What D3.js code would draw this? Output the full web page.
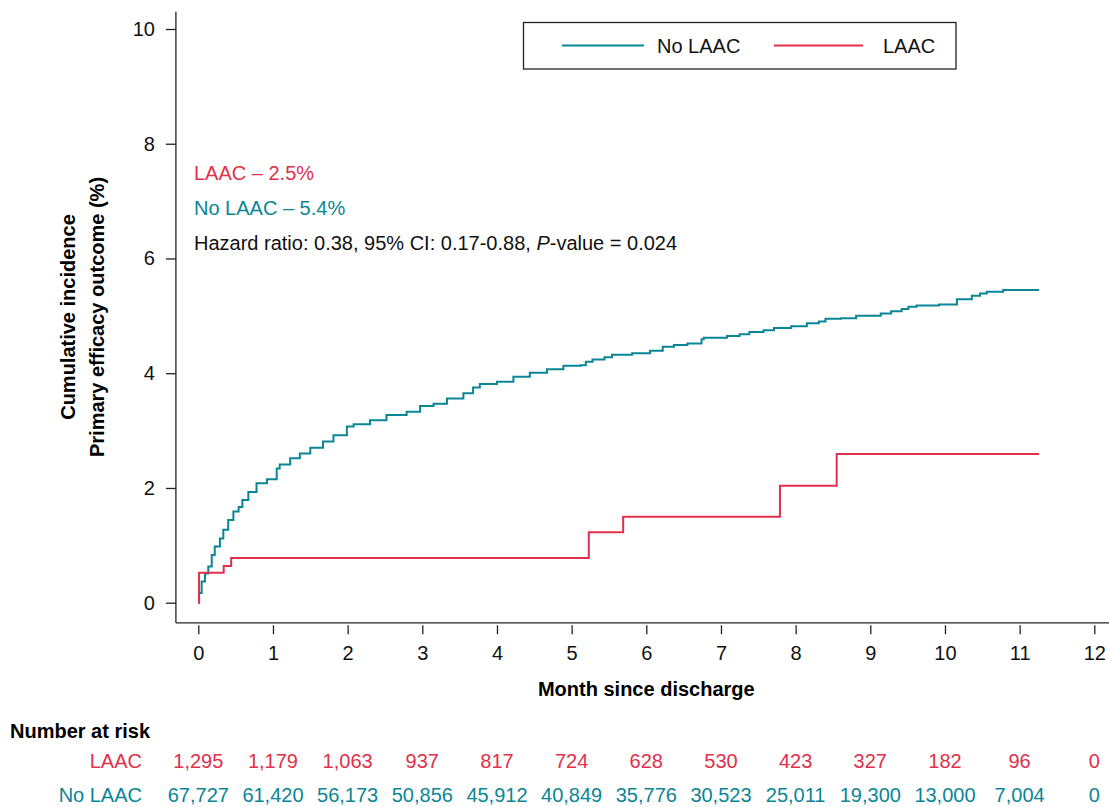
<!DOCTYPE html>
<html>
<head>
<meta charset="utf-8">
<script src="https://cdn.jsdelivr.net/npm/d3@7"></script>
<style>
  body { margin: 0; background: #fff; }
  svg text { font-family: "Liberation Sans", Arial, sans-serif; }
</style>
</head>
<body>
<svg width="1109" height="807"></svg>
<script>
// month since discharge / cumulative incidence (%)
var laacTime = [0, 0.01, 0.34, 0.44, 5.23, 5.69, 7.79, 8.55, 11.26];
var laacValue = [0, 0.52, 0.64, 0.78, 1.23, 1.50, 2.04, 2.59, 2.59];

var noLaacTime = [0, 0.01, 0.045, 0.09, 0.134, 0.18, 0.22, 0.29, 0.335, 0.40, 0.47, 0.54, 0.59, 0.67, 0.78,
  0.92, 1.05, 1.09, 1.23, 1.36, 1.50, 1.67, 1.81, 1.99, 2.08, 2.30, 2.52, 2.79, 2.97, 3.15, 3.33, 3.55,
  3.68, 3.77, 4.0, 4.22, 4.44, 4.67, 4.89, 5.12, 5.19, 5.28, 5.44, 5.54, 5.81, 6.05, 6.22, 6.37, 6.55,
  6.74, 6.77, 7.08, 7.25, 7.38, 7.57, 7.71, 7.94, 8.15, 8.31, 8.40, 8.61, 8.81, 9.14, 9.28, 9.42, 9.51,
  9.62, 9.92, 10.16, 10.36, 10.47, 10.56, 10.78, 11.26];
var noLaacValue = [0, 0.17, 0.37, 0.51, 0.63, 0.83, 0.98, 1.12, 1.27, 1.44, 1.59, 1.67, 1.79, 1.93, 2.08,
  2.15, 2.34, 2.41, 2.52, 2.60, 2.70, 2.81, 2.92, 3.07, 3.11, 3.18, 3.27, 3.33, 3.43, 3.47, 3.56, 3.65,
  3.75, 3.81, 3.85, 3.94, 4.01, 4.07, 4.13, 4.14, 4.20, 4.24, 4.28, 4.32, 4.35, 4.39, 4.46, 4.49, 4.52,
  4.59, 4.62, 4.65, 4.68, 4.72, 4.75, 4.79, 4.82, 4.87, 4.90, 4.95, 4.96, 5.00, 5.04, 5.08, 5.12, 5.16,
  5.18, 5.20, 5.29, 5.35, 5.39, 5.42, 5.45, 5.45];

var xTicks = [0, 1, 2, 3, 4, 5, 6, 7, 8, 9, 10, 11, 12];
var yTicks = [0, 2, 4, 6, 8, 10];

var riskLaac = ['1,295', '1,179', '1,063', '937', '817', '724', '628', '530', '423', '327', '182', '96', '0'];
var riskNoLaac = ['67,727', '61,420', '56,173', '50,856', '45,912', '40,849', '35,776', '30,523',
  '25,011', '19,300', '13,000', '7,004', '0'];

var red = '#e0304a';
var teal = '#0a8696';

var svg = d3.select('svg');

var x = d3.scaleLinear().domain([0, 12]).range([198.3, 1094.3]);
var y = d3.scaleLinear().domain([0, 10]).range([602.7, 29]);

// axis lines (L shape, extended past the tick range)
svg.append('line')
    .attr('x1', x(-0.3)).attr('x2', x(-0.3))
    .attr('y1', y(10.3)).attr('y2', y(-0.35))
    .attr('stroke', '#222').attr('stroke-width', 1.3);
svg.append('line')
    .attr('x1', x(-0.3)).attr('x2', x(12.25))
    .attr('y1', y(-0.35)).attr('y2', y(-0.35))
    .attr('stroke', '#222').attr('stroke-width', 1.3);

var yAxis = svg.append('g')
    .attr('transform', 'translate(' + x(-0.3) + ',0)')
    .call(d3.axisLeft(y).tickValues(yTicks).tickSize(10).tickPadding(11));

var xAxis = svg.append('g')
    .attr('transform', 'translate(0,' + (y(-0.35) + 2.5) + ')')
    .call(d3.axisBottom(x).tickValues(xTicks).tickSize(9).tickPadding(12));

[yAxis, xAxis].forEach(function(g) {
    g.select('.domain').remove();
    g.selectAll('.tick line').attr('stroke', '#222').attr('stroke-width', 1.3);
    g.selectAll('.tick text')
        .attr('fill', '#111')
        .style('font-size', '20px')
        .style('font-family', '"Liberation Sans", Arial, sans-serif');
});

// axis titles
svg.append('text')
    .attr('x', x(6)).attr('y', 696)
    .attr('text-anchor', 'middle')
    .style('font-size', '20px').style('font-weight', 'bold')
    .text('Month since discharge');

var yTitle = svg.append('g')
    .attr('transform', 'translate(0,317) rotate(-90)');
yTitle.append('text')
    .attr('x', 0).attr('y', 75)
    .attr('text-anchor', 'middle')
    .style('font-size', '20px').style('font-weight', 'bold')
    .text('Cumulative incidence');
yTitle.append('text')
    .attr('x', 0).attr('y', 104)
    .attr('text-anchor', 'middle')
    .style('font-size', '20px').style('font-weight', 'bold')
    .text('Primary efficacy outcome (%)');

// curves
var line = d3.line()
    .x(function(d) { return x(d[0]); })
    .y(function(d) { return y(d[1]); })
    .curve(d3.curveStepAfter);

svg.append('path')
    .datum(d3.zip(noLaacTime, noLaacValue))
    .attr('d', line)
    .attr('fill', 'none')
    .attr('stroke', teal)
    .attr('stroke-width', 2);

svg.append('path')
    .datum(d3.zip(laacTime, laacValue))
    .attr('d', line)
    .attr('fill', 'none')
    .attr('stroke', red)
    .attr('stroke-width', 2);

// legend
svg.append('rect')
    .attr('x', 523.5).attr('y', 22.5)
    .attr('width', 432.5).attr('height', 46.5)
    .attr('fill', 'none').attr('stroke', '#222').attr('stroke-width', 1.3);

var legendItems = [
    {label: 'No LAAC', color: teal, x1: 562, x2: 644, tx: 657},
    {label: 'LAAC', color: red, x1: 774, x2: 863, tx: 883}
];
legendItems.forEach(function(d) {
    svg.append('line')
        .attr('x1', d.x1).attr('x2', d.x2)
        .attr('y1', 45.5).attr('y2', 45.5)
        .attr('stroke', d.color).attr('stroke-width', 2);
    svg.append('text')
        .attr('x', d.tx).attr('y', 52.5)
        .style('font-size', '20px')
        .attr('fill', '#111')
        .text(d.label);
});

// annotation
svg.append('text')
    .attr('x', 194).attr('y', 180)
    .style('font-size', '20px').attr('fill', red)
    .text('LAAC \u2013 2.5%');
svg.append('text')
    .attr('x', 194).attr('y', 215)
    .style('font-size', '20px').attr('fill', teal)
    .text('No LAAC \u2013 5.4%');
var hr = svg.append('text')
    .attr('x', 194).attr('y', 250)
    .style('font-size', '20px').attr('fill', '#111');
hr.append('tspan').text('Hazard ratio: 0.38, 95% CI: 0.17-0.88, ');
hr.append('tspan').style('font-style', 'italic').text('P');
hr.append('tspan').text('-value = 0.024');

// number at risk table
svg.append('text')
    .attr('x', 10).attr('y', 738)
    .style('font-size', '20px').style('font-weight', 'bold')
    .text('Number at risk');

var riskRows = [
    {label: 'LAAC', values: riskLaac, color: red, y: 768},
    {label: 'No LAAC', values: riskNoLaac, color: teal, y: 802}
];
riskRows.forEach(function(row) {
    svg.append('text')
        .attr('x', 142).attr('y', row.y)
        .attr('text-anchor', 'end')
        .style('font-size', '20px')
        .attr('fill', row.color)
        .text(row.label);
    svg.selectAll(null)
        .data(row.values)
        .enter()
        .append('text')
        .attr('x', function(d, i) { return x(xTicks[i]); })
        .attr('y', row.y)
        .attr('text-anchor', 'middle')
        .style('font-size', '20px')
        .attr('fill', row.color)
        .text(function(d) { return d; });
});
</script>
</body>
</html>
